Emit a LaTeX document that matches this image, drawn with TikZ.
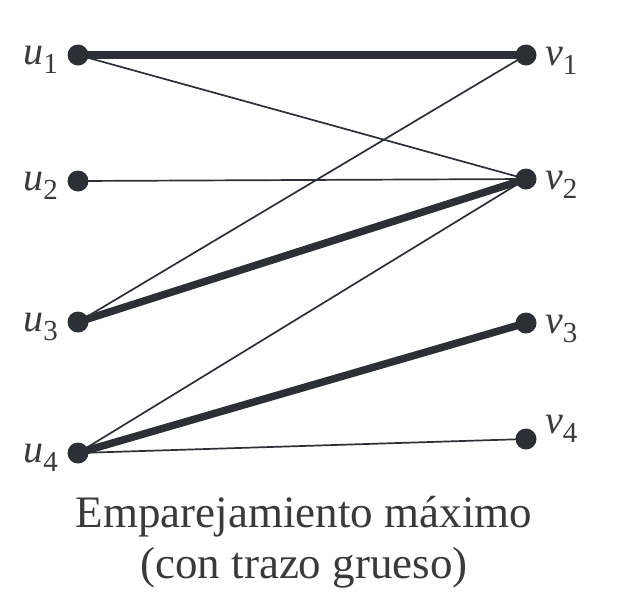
\documentclass[tikz,border=0pt]{standalone}
\usepackage{fontspec}
\setmainfont{Liberation Serif}
\definecolor{ink}{HTML}{2C2F36}
\definecolor{txt}{HTML}{3A3A3A}
\newcommand{\lbl}[2]{{\fontsize{40}{40}\selectfont\itshape #1}\raisebox{-9pt}{\fontsize{29}{29}\selectfont #2}}
\begin{document}
\begin{tikzpicture}[x=1pt,y=-1pt,
  vtx/.style={circle,fill=ink,inner sep=0pt,minimum size=21pt},
  thin edge/.style={draw=ink,line width=1.7pt},
  thick edge/.style={draw=ink,line width=7.5pt},
  lab/.style={text=txt,inner sep=0pt,anchor=base}]
\useasboundingbox (0,0) rectangle (626,614);
\node[vtx] (u1) at (78,55) {};
\node[vtx] (u2) at (78,181) {};
\node[vtx] (u3) at (78,322) {};
\node[vtx] (u4) at (78,453) {};
\node[vtx] (v1) at (526,55) {};
\node[vtx] (v2) at (526,179) {};
\node[vtx] (v3) at (526,323) {};
\node[vtx] (v4) at (526,439) {};
\draw[thin edge] (u1.center) -- (v2.center);
\draw[thin edge] (u2.center) -- (v2.center);
\draw[thin edge] (u3.center) -- (v1.center);
\draw[thin edge] (u4.center) -- (v2.center);
\draw[thin edge] (u4.center) -- (v4.center);
\draw[thick edge] (u1.center) -- (v1.center);
\draw[thick edge] (u3.center) -- (v2.center);
\draw[thick edge] (u4.center) -- (v3.center);
\node[lab,anchor=base east] (lu1) at (58,64) {\lbl{u}{1}};
\node[lab,anchor=base east] (lu2) at (58,190) {\lbl{u}{2}};
\node[lab,anchor=base east] (lu3) at (58,331) {\lbl{u}{3}};
\node[lab,anchor=base east] (lu4) at (58,462) {\lbl{u}{4}};
\node[lab,anchor=base west] (lv1) at (545,65) {\lbl{v}{1}};
\node[lab,anchor=base west] (lv2) at (545,189) {\lbl{v}{2}};
\node[lab,anchor=base west] (lv3) at (545,333) {\lbl{v}{3}};
\node[lab,anchor=base west] (lv4) at (545,433) {\lbl{v}{4}};
\node[text=txt,align=center,inner sep=0pt,font=\fontsize{45}{51}\selectfont,anchor=base] (cap) at (304,578)
  {Emparejamiento máximo\\(con trazo grueso)};
\end{tikzpicture}
\end{document}
